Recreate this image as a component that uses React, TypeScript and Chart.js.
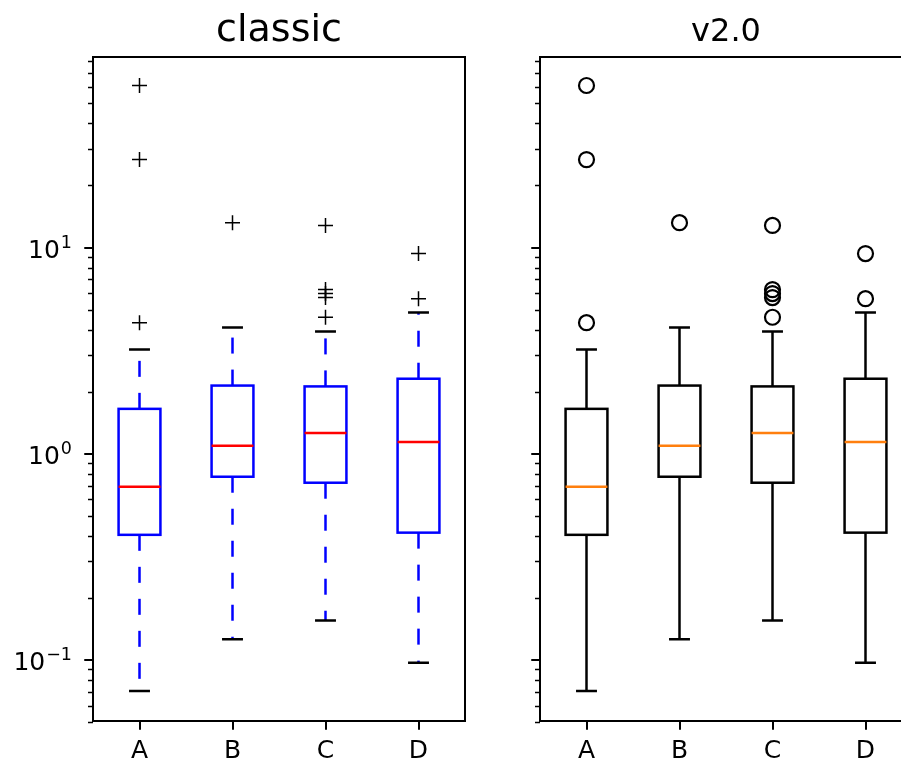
import React, { useEffect, useRef } from 'react';
import { Chart, registerables } from 'chart.js';

Chart.register(...registerables);

// ---------- data ----------
const CATEGORIES = ['A', 'B', 'C', 'D'];
const WHISKER_LOW = [0.0707, 0.126, 0.155, 0.0967];
const Q1 = [0.404, 0.773, 0.723, 0.414];
const MEDIAN = [0.691, 1.094, 1.26, 1.14];
const Q3 = [1.65, 2.14, 2.12, 2.31];
const WHISKER_HIGH = [3.2, 4.09, 3.91, 4.84];
const OUTLIERS_A = [4.32, 26.7, 61.1];
const OUTLIERS_B = [13.2];
const OUTLIERS_C = [4.59, 5.72, 5.98, 6.25, 12.8];
const OUTLIERS_D = [5.65, 9.35];
const OUTLIERS = [OUTLIERS_A, OUTLIERS_B, OUTLIERS_C, OUTLIERS_D];

const Y_MIN = 0.0505;
const Y_MAX = 84;
const MAJOR_TICKS = [0.1, 1, 10];
const MAJOR_BASE = ['10', '10', '10'];
const MAJOR_EXP = ['\u22121', '0', '1'];
const MINOR_TICKS = [
  0.05, 0.06, 0.07, 0.08, 0.09,
  0.2, 0.3, 0.4, 0.5, 0.6, 0.7, 0.8, 0.9,
  2, 3, 4, 5, 6, 7, 8, 9,
  20, 30, 40, 50, 60, 70, 80,
];
const TITLES = ['classic', 'v2.0'];

const FONT = "'DejaVu Sans', sans-serif";
const TICK_SIZE = 25;

type BoxStyle = {
  title: string;
  titleSize: number;
  boxColor: string;
  medianColor: string;
  whiskerColor: string;
  whiskerDash: number[];
  capColor: string;
  flierStyle: 'cross' | 'circle';
  flierRadius: number;
  flierWidth: number;
  showYLabels: boolean;
  yAxisWidth: number;
  rightPad: number;
};

function makeBoxPlugin(st: BoxStyle) {
  return {
    id: 'boxes',
    beforeDatasetsDraw(chart: any) {
      const ctx = chart.ctx;
      const xs = chart.scales.x;
      const ys = chart.scales.y;
      const unit = xs.getPixelForValue(1) - xs.getPixelForValue(0);
      const hw = unit * 0.225;
      const cw = unit * 0.1125;
      const py = (v: number) => ys.getPixelForValue(v);
      ctx.save();
      ctx.lineWidth = 2.5;
      ctx.lineCap = 'butt';
      for (let i = 0; i < CATEGORIES.length; i++) {
        const cx = xs.getPixelForValue(i);
        // whiskers
        ctx.strokeStyle = st.whiskerColor;
        ctx.setLineDash(st.whiskerDash);
        ctx.beginPath();
        ctx.moveTo(cx, py(Q1[i]));
        ctx.lineTo(cx, py(WHISKER_LOW[i]));
        ctx.stroke();
        ctx.beginPath();
        ctx.moveTo(cx, py(Q3[i]));
        ctx.lineTo(cx, py(WHISKER_HIGH[i]));
        ctx.stroke();
        ctx.setLineDash([]);
        // caps
        ctx.strokeStyle = st.capColor;
        ctx.beginPath();
        ctx.moveTo(cx - cw, py(WHISKER_LOW[i]));
        ctx.lineTo(cx + cw, py(WHISKER_LOW[i]));
        ctx.moveTo(cx - cw, py(WHISKER_HIGH[i]));
        ctx.lineTo(cx + cw, py(WHISKER_HIGH[i]));
        ctx.stroke();
        // box
        ctx.strokeStyle = st.boxColor;
        ctx.strokeRect(cx - hw, py(Q3[i]), 2 * hw, py(Q1[i]) - py(Q3[i]));
        // median
        ctx.strokeStyle = st.medianColor;
        ctx.beginPath();
        ctx.moveTo(cx - hw, py(MEDIAN[i]));
        ctx.lineTo(cx + hw, py(MEDIAN[i]));
        ctx.stroke();
      }
      ctx.restore();
    },
    afterDraw(chart: any) {
      const ctx = chart.ctx;
      const a = chart.chartArea;
      const xs = chart.scales.x;
      const ys = chart.scales.y;
      ctx.save();
      // frame
      ctx.strokeStyle = '#000';
      ctx.lineWidth = 2;
      ctx.strokeRect(a.left, a.top, a.right - a.left, a.bottom - a.top);
      // y ticks
      ctx.lineWidth = 2;
      for (const v of MAJOR_TICKS) {
        const y = Math.round(ys.getPixelForValue(v));
        ctx.beginPath();
        ctx.moveTo(a.left, y);
        ctx.lineTo(a.left - 8.75, y);
        ctx.stroke();
      }
      ctx.lineWidth = 1.5;
      for (const v of MINOR_TICKS) {
        const y = Math.round(ys.getPixelForValue(v)) + 0.5;
        ctx.beginPath();
        ctx.moveTo(a.left, y);
        ctx.lineTo(a.left - 5, y);
        ctx.stroke();
      }
      // x ticks
      ctx.lineWidth = 2;
      for (let i = 0; i < CATEGORIES.length; i++) {
        const x = Math.round(xs.getPixelForValue(i));
        ctx.beginPath();
        ctx.moveTo(x, a.bottom);
        ctx.lineTo(x, a.bottom + 8.75);
        ctx.stroke();
      }
      ctx.fillStyle = '#000';
      // y tick labels (base with raised exponent, like 10^n)
      if (st.showYLabels) {
        ctx.textBaseline = 'alphabetic';
        ctx.textAlign = 'left';
        const supSize = TICK_SIZE * 0.7;
        for (let i = 0; i < MAJOR_TICKS.length; i++) {
          const y = ys.getPixelForValue(MAJOR_TICKS[i]);
          ctx.font = `${TICK_SIZE}px ${FONT}`;
          const bw = ctx.measureText(MAJOR_BASE[i]).width;
          ctx.font = `${supSize}px ${FONT}`;
          const sw = ctx.measureText(MAJOR_EXP[i]).width;
          const right = a.left - 21;
          const x0 = right - sw - bw - 1;
          ctx.font = `${TICK_SIZE}px ${FONT}`;
          ctx.fillText(MAJOR_BASE[i], x0, y + 10);
          ctx.font = `${supSize}px ${FONT}`;
          ctx.fillText(MAJOR_EXP[i], x0 + bw + 1, y);
        }
      }
      // title
      ctx.font = `${st.titleSize}px ${FONT}`;
      ctx.textAlign = 'center';
      ctx.textBaseline = 'alphabetic';
      ctx.fillText(st.title, (a.left + a.right) / 2, 41);
      ctx.restore();
    },
  };
}

function BoxChart({ st, width, left }: { st: BoxStyle; width: number; left: number }) {
  const ref = useRef<HTMLCanvasElement>(null);
  useEffect(() => {
    if (!ref.current) return;
    const points: { x: string; y: number }[] = [];
    OUTLIERS.forEach((arr, i) => arr.forEach((v) => points.push({ x: CATEGORIES[i], y: v })));
    const chart = new Chart(ref.current, {
      type: 'scatter',
      data: {
        labels: CATEGORIES,
        datasets: [
          {
            data: points as any,
            pointStyle: st.flierStyle,
            pointRadius: st.flierRadius,
            pointBorderWidth: st.flierWidth,
            borderColor: '#000',
            pointBorderColor: '#000',
            backgroundColor: 'rgba(0,0,0,0)',
            pointBackgroundColor: 'rgba(0,0,0,0)',
          } as any,
        ],
      },
      options: {
        animation: false,
        responsive: false,
        events: [],
        layout: { autoPadding: false, padding: { left: 0, right: st.rightPad, top: 57, bottom: 0 } },
        plugins: {
          legend: { display: false },
          tooltip: { enabled: false },
          title: { display: false },
        },
        scales: {
          x: {
            type: 'category',
            labels: CATEGORIES,
            offset: true,
            grid: { display: false, drawTicks: false },
            border: { display: false },
            ticks: {
              color: '#000',
              font: { family: FONT, size: TICK_SIZE },
              padding: 15,
              maxRotation: 0,
              autoSkip: false,
            },
            afterFit: (s: any) => {
              s.height = 42;
              s.paddingLeft = 0;
              s.paddingRight = 0;
            },
          },
          y: {
            type: 'logarithmic',
            min: Y_MIN,
            max: Y_MAX,
            grid: { display: false, drawTicks: false },
            border: { display: false },
            ticks: { display: false },
            afterBuildTicks: (s: any) => {
              s.ticks = MAJOR_TICKS.map((v) => ({ value: v }));
            },
            afterFit: (s: any) => {
              s.width = st.yAxisWidth;
              s.paddingTop = 0;
              s.paddingBottom = 0;
            },
          },
        },
      } as any,
      plugins: [makeBoxPlugin(st)],
    });
    return () => chart.destroy();
  }, []);
  return (
    <canvas
      ref={ref}
      width={width}
      height={763}
      style={{ position: 'absolute', left, top: 0, width, height: 763 }}
    />
  );
}

const CLASSIC: BoxStyle = {
  title: TITLES[0],
  titleSize: 38,
  boxColor: '#0000ff',
  medianColor: '#ff0000',
  whiskerColor: '#0000ff',
  whiskerDash: [16, 16],
  capColor: '#000000',
  flierStyle: 'cross',
  flierRadius: 7.5,
  flierWidth: 1.5,
  showYLabels: true,
  yAxisWidth: 93,
  rightPad: 5,
};

const V2: BoxStyle = {
  title: TITLES[1],
  titleSize: 32,
  boxColor: '#000000',
  medianColor: '#ff7f0e',
  whiskerColor: '#000000',
  whiskerDash: [],
  capColor: '#000000',
  flierStyle: 'circle',
  flierRadius: 7.5,
  flierWidth: 2.2,
  showYLabels: false,
  yAxisWidth: 70,
  rightPad: 8,
};

export default function App() {
  return (
    <div
      style={{
        position: 'fixed',
        left: 0,
        top: 0,
        width: 901,
        height: 763,
        overflow: 'hidden',
        background: '#fff',
      }}
    >
      <BoxChart st={CLASSIC} width={470} left={0} />
      <BoxChart st={V2} width={450} left={470} />
    </div>
  );
}
